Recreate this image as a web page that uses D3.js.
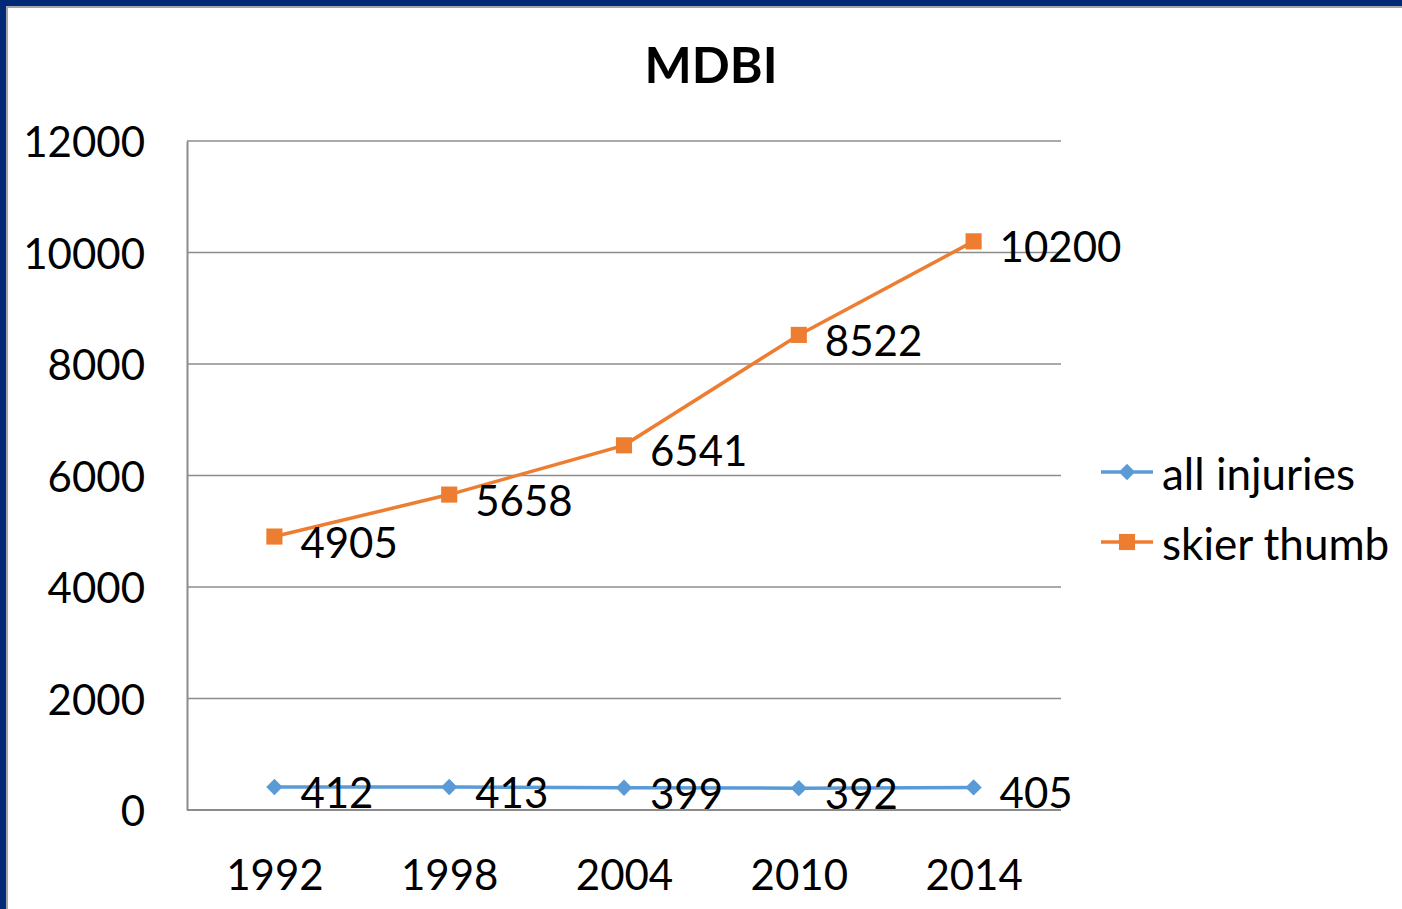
<!DOCTYPE html>
<html>
<head>
<meta charset="utf-8">
<script src="https://cdn.jsdelivr.net/npm/d3@7"></script>
<style>
  html, body { margin: 0; padding: 0; background: #002a78; }
  svg { display: block; }
  text { font-family: Lato, "Open Sans", sans-serif; fill: #000; }
</style>
</head>
<body>
<div id="chart"></div>
<script>
// chart values
const years = ["1992", "1998", "2004", "2010", "2014"];
const allInjuries = [412, 413, 399, 392, 405];
const skierThumb = [4905, 5658, 6541, 8522, 10200];
const yTicks = [0, 2000, 4000, 6000, 8000, 10000, 12000];

const W = 1402, H = 909;
const svg = d3.select("#chart").append("svg")
    .attr("width", W)
    .attr("height", H);

// white panel inside the blue frame
svg.append("rect")
    .attr("x", 7).attr("y", 7)
    .attr("width", W).attr("height", H)
    .attr("fill", "#fff")
    .attr("stroke", "#a6a6a6")
    .attr("stroke-width", 2);

const plot = { left: 187, right: 1061, top: 141, bottom: 810 };

const x = d3.scalePoint()
    .domain(years)
    .range([plot.left, plot.right])
    .padding(0.5);

const y = d3.scaleLinear()
    .domain([0, 12000])
    .range([plot.bottom, plot.top]);

// title
svg.append("text")
    .attr("x", 711).attr("y", 83)
    .attr("text-anchor", "middle")
    .attr("font-weight", "bold")
    .attr("font-size", 50)
    .text("MDBI");

// gridlines
svg.append("g")
    .selectAll("line")
    .data(yTicks.filter(d => d > 0))
    .enter().append("line")
    .attr("x1", plot.left).attr("x2", plot.right)
    .attr("y1", d => y(d)).attr("y2", d => y(d))
    .attr("stroke", "#8c8c8c")
    .attr("stroke-width", 1.5);

// y axis
const yAxis = svg.append("g")
    .attr("transform", `translate(${plot.left},0)`)
    .call(d3.axisLeft(y).tickValues(yTicks).tickSize(0).tickPadding(42).tickFormat(d3.format("d")));
yAxis.select(".domain").attr("stroke", "#8c8c8c").attr("stroke-width", 2);
yAxis.selectAll("text").attr("font-size", 42).attr("fill", "#000")
    .attr("font-family", "Lato, sans-serif")
    .attr("dy", "0.38em");

// x axis
const xAxis = svg.append("g")
    .attr("transform", `translate(0,${plot.bottom})`)
    .call(d3.axisBottom(x).tickSize(0).tickPadding(50));
xAxis.select(".domain").attr("d", `M${plot.left},0H${plot.right}`)
    .attr("stroke", "#8c8c8c").attr("stroke-width", 2);
xAxis.selectAll("text").attr("font-size", 42).attr("fill", "#000")
    .attr("font-family", "Lato, sans-serif");

const series = [
    { name: "all injuries", values: allInjuries, color: "#5b9bd5", shape: d3.symbolDiamond2, size: 170 },
    { name: "skier thumb", values: skierThumb, color: "#ed7d31", shape: d3.symbolSquare, size: 260 }
];

const line = d3.line()
    .x((d, i) => x(years[i]))
    .y(d => y(d));

series.forEach(s => {
    const g = svg.append("g");
    g.append("path")
        .datum(s.values)
        .attr("d", line)
        .attr("fill", "none")
        .attr("stroke", s.color)
        .attr("stroke-width", 3.5);

    g.selectAll("path.marker")
        .data(s.values)
        .enter().append("path")
        .attr("class", "marker")
        .attr("d", d3.symbol().type(s.shape).size(s.size))
        .attr("transform", (d, i) => `translate(${x(years[i])},${y(d)})`)
        .attr("fill", s.color);

    g.selectAll("text")
        .data(s.values)
        .enter().append("text")
        .attr("x", (d, i) => x(years[i]) + 26)
        .attr("y", d => y(d) + 5)
        .attr("dominant-baseline", "central")
        .attr("font-size", 42)
        .text(d => d);
});

// legend
const legend = svg.append("g");
series.forEach((s, i) => {
    const ly = 472 + i * 70;
    legend.append("line")
        .attr("x1", 1101).attr("x2", 1153)
        .attr("y1", ly).attr("y2", ly)
        .attr("stroke", s.color)
        .attr("stroke-width", 3.5);
    legend.append("path")
        .attr("d", d3.symbol().type(s.shape).size(s.size))
        .attr("transform", `translate(1127,${ly})`)
        .attr("fill", s.color);
    legend.append("text")
        .attr("x", 1162).attr("y", ly + 1)
        .attr("dominant-baseline", "central")
        .attr("font-size", 44)
        .text(s.name);
});
</script>
</body>
</html>
